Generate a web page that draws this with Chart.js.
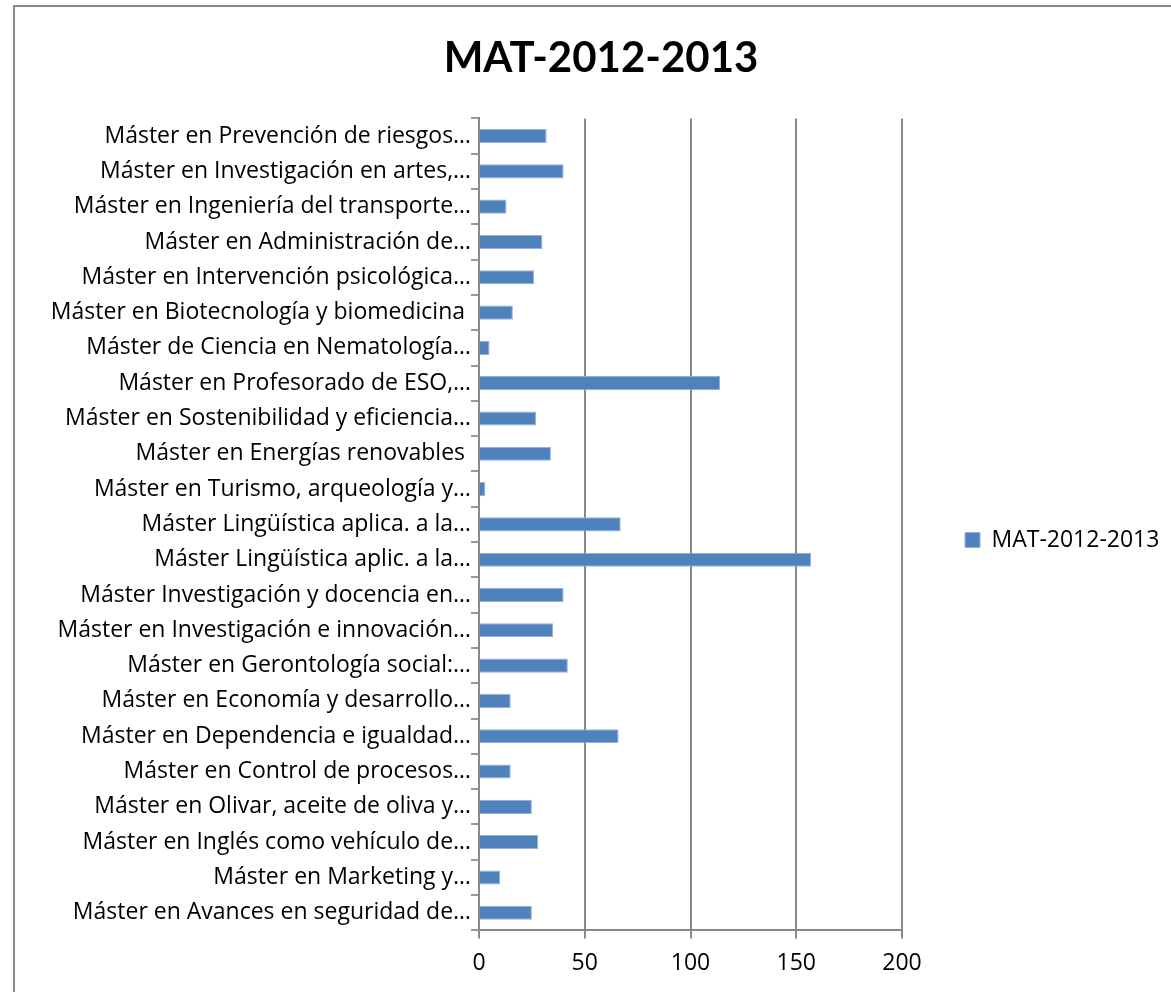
<!DOCTYPE html>
<html>
<head>
<meta charset="utf-8">
<script src="https://cdn.jsdelivr.net/npm/chart.js@4/dist/chart.umd.min.js"></script>
<style>
  html, body { margin: 0; padding: 0; background: #fff; overflow: hidden; }
  #frame { position: absolute; left: 13px; top: 5px; width: 1300px; height: 1100px; border: 2px solid #888; }
  #c { position: absolute; left: 0; top: 0; }
</style>
</head>
<body>
<div id="frame"></div>
<canvas id="c" width="1171" height="992"></canvas>
<script>
const seriesName = 'MAT-2012-2013';

const categories = [
  'Máster en Prevención de riesgos…',
  'Máster en Investigación en artes,…',
  'Máster en Ingeniería del transporte…',
  'Máster en Administración de…',
  'Máster en Intervención psicológica…',
  'Máster en Biotecnología y biomedicina ',
  'Máster de Ciencia en Nematología…',
  'Máster en Profesorado de ESO,…',
  'Máster en Sostenibilidad y eficiencia…',
  'Máster en Energías renovables ',
  'Máster en Turismo, arqueología y…',
  'Máster Lingüística aplica. a la…',
  'Máster Lingüística aplic. a la…',
  'Máster Investigación y docencia en…',
  'Máster en Investigación e innovación…',
  'Máster en Gerontología social:…',
  'Máster en Economía y desarrollo…',
  'Máster en Dependencia e igualdad…',
  'Máster en Control de procesos…',
  'Máster en Olivar, aceite de oliva y…',
  'Máster en Inglés como vehículo de…',
  'Máster en Marketing y…',
  'Máster en Avances en seguridad de…'
];

const values = [32, 40, 13, 30, 26, 16, 5, 114, 27, 34, 3, 67, 157, 40, 35, 42, 15, 66, 15, 25, 28, 10, 25];

const xTicks = [0, 50, 100, 150, 200];

Chart.defaults.font.family = '"Open Sans", sans-serif';
Chart.defaults.color = '#000';

// Excel puts the legend in a wide box right of the plot; stretch Chart.js' legend the same way
const legendBox = {
  id: 'legendBox',
  beforeLayout(chart) {
    const lg = chart.legend;
    if (lg && !lg._wide) {
      const fit = lg.fit.bind(lg);
      lg.fit = function () { fit(); this.width = 269; };
      lg._wide = true;
    }
  },
  afterLayout(chart) {
    // nudge the legend entry down to where Excel centres it
    chart.legend.top += 46;
    chart.legend.bottom += 46;
  }
};

new Chart(document.getElementById('c'), {
  type: 'bar',
  data: {
    labels: categories,
    datasets: [{
      label: seriesName,
      data: values,
      backgroundColor: '#4F81BD',
      borderColor: '#92B2DC',
      borderWidth: 1,
      barPercentage: 0.4,
      categoryPercentage: 1.0
    }]
  },
  options: {
    indexAxis: 'y',
    responsive: false,
    animation: false,
    layout: { padding: { left: 31, right: 0, top: 0, bottom: 4 } },
    scales: {
      x: {
        min: xTicks[0],
        max: xTicks[xTicks.length - 1],
        afterBuildTicks(scale) { scale.ticks = xTicks.map(v => ({ value: v })); },
        grid: { color: '#888', lineWidth: 2, tickLength: 8 },
        border: { color: '#888', width: 2 },
        ticks: { font: { size: 23 }, padding: 11, color: '#000' }
      },
      y: {
        afterFit(scale) { scale.width = 448; },
        grid: { drawOnChartArea: false, color: '#999', lineWidth: 2, tickLength: 8, offset: true },
        border: { color: '#888', width: 2 },
        ticks: { font: { size: 23 }, padding: 0, color: '#000', autoSkip: false }
      }
    },
    plugins: {
      title: {
        display: true,
        text: seriesName,
        font: { family: 'Lato, "Open Sans", sans-serif', size: 42, weight: 'bold' },
        color: '#000',
        padding: { top: 33, bottom: 35 }
      },
      legend: {
        position: 'right',
        labels: { boxWidth: 15, boxHeight: 15, padding: 63, font: { size: 23 }, color: '#000' }
      },
      tooltip: { enabled: false }
    }
  },
  plugins: [legendBox]
});
</script>
</body>
</html>
